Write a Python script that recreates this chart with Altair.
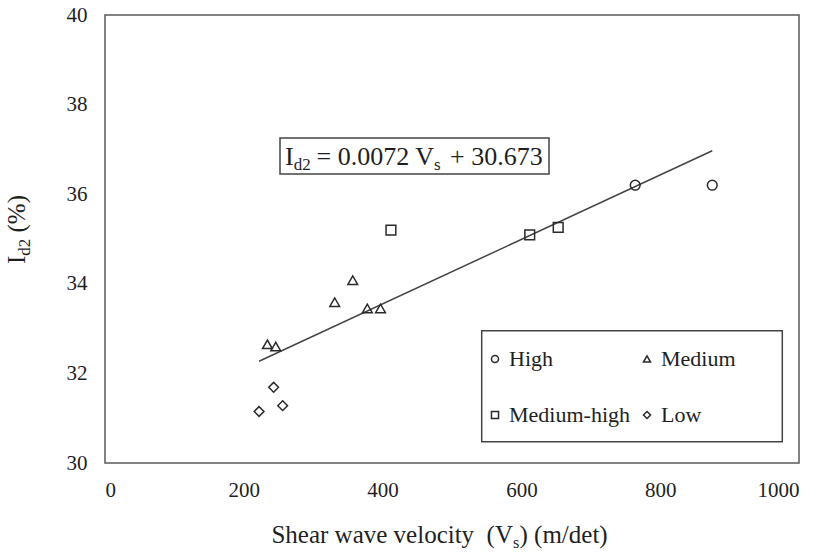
import altair as alt
import pandas as pd

# ---- data ----
high_vs = [764, 875]
high_id = [36.2, 36.2]
mh_vs = [412, 612, 653]
mh_id = [35.2, 35.09, 35.26]
med_vs = [234, 246, 331, 357, 378, 397]
med_id = [32.65, 32.60, 33.59, 34.08, 33.45, 33.45]
low_vs = [222, 243, 256]
low_id = [31.15, 31.69, 31.28]

classes = ["High", "Medium", "Medium-high", "Low"]
shapes = ["circle", "triangle-up", "square", "diamond"]

trend_vs = [222, 875]
trend_id = [32.27, 36.97]

x_ticks = [0, 200, 400, 600, 800, 1000]
y_ticks = [30, 32, 34, 36, 38, 40]

FONT = "Liberation Serif"
TXT = "#1f1f1f"
LINE = "#444444"

rows = []
for name, xs, ys in [("High", high_vs, high_id), ("Medium-high", mh_vs, mh_id),
                     ("Medium", med_vs, med_id), ("Low", low_vs, low_id)]:
    for a, b in zip(xs, ys):
        rows.append({"Vs": a, "Id2": b, "cls": name})
pts = pd.DataFrame(rows)
trend = pd.DataFrame({"Vs": trend_vs, "Id2": trend_id})
one = pd.DataFrame({"k": [0]})

xscale = alt.Scale(domain=[0, 1000], nice=False)
yscale = alt.Scale(domain=[30, 40], nice=False)

xaxis = alt.Axis(values=x_ticks, title=None, grid=False, domain=False, ticks=False, tickSize=0,
                 format="d", labelFont=FONT, labelFontSize=21, labelColor=TXT, labelPadding=16)
yaxis = alt.Axis(values=y_ticks, title=None, grid=False, domain=False, ticks=False, tickSize=0,
                 format="d", labelFont=FONT, labelFontSize=21, labelColor=TXT, labelPadding=18)

points = alt.Chart(pts).mark_point(filled=False, size=95, strokeWidth=1.5, color="#2a2a2a",
                                   opacity=1).encode(
    x=alt.X("Vs:Q", scale=xscale, axis=xaxis),
    y=alt.Y("Id2:Q", scale=yscale, axis=yaxis),
    shape=alt.Shape("cls:N", scale=alt.Scale(domain=classes, range=shapes),
                    legend=alt.Legend(orient="none", legendX=379, legendY=333, columns=2,
                                      direction="horizontal",
                                      title=None, padding=0, gridAlign="each",
                                      labelFont=FONT, labelFontSize=22, labelColor=TXT,
                                      labelOffset=3, symbolSize=50, symbolStrokeWidth=1.5,
                                      symbolStrokeColor="#2a2a2a", symbolFillColor="white",
                                      symbolOpacity=1,
                                      rowPadding=34, columnPadding=6, strokeColor="transparent")),
)

line = alt.Chart(trend).mark_line(color=LINE, strokeWidth=1.5).encode(
    x=alt.X("Vs:Q", scale=xscale, axis=xaxis), y=alt.Y("Id2:Q", scale=yscale, axis=yaxis)
)


def box(x1, y1, x2, y2):
    return alt.Chart(one).mark_rect(fill="white", stroke=LINE, strokeWidth=1.5).encode(
        x=alt.value(x1), x2=alt.value(x2), y=alt.value(y1), y2=alt.value(y2))


def txt(s, x, y, size, align="left", angle=0):
    kw = dict(font=FONT, fontSize=size, color=TXT, align=align, baseline="alphabetic")
    if angle:
        kw["angle"] = angle
    return alt.Chart(one).mark_text(**kw).encode(
        x=alt.value(x), y=alt.value(y), text=alt.value(s))


eq_box = box(175, 123, 444, 159)
eq = [
    txt("I", 180, 150, 26),
    txt("d2", 188.7, 155, 17),
    txt("= 0.0072 V", 329, 150, 26, align="right"),
    txt("s", 329, 155, 17),
    txt("+ 30.673", 345, 150, 26),
]

leg_box = box(376.7, 315.7, 677.3, 426.7)

xtitle = [
    txt("Shear wave velocity\u00a0 (V", 408, 528, 25, align="right"),
    txt("s", 408, 533, 16),
    txt(") (m/det)", 414.5, 528, 25),
]
ytitle = [
    txt("I", -80, 249, 25, angle=270),
    txt("d2", -75, 240.7, 17, angle=270),
    txt("(%)", -80, 217.5, 25, angle=270),
]

chart = alt.layer(eq_box, leg_box, line, points, *eq, *xtitle, *ytitle).properties(
    width=694, height=448,
    autosize=alt.AutoSizeParams(type="none"),
    padding={"left": 105, "top": 15, "right": 22, "bottom": 89},
).configure(
    background="white", font=FONT,
    style={"guide-label": {"font": FONT, "fontSize": 21, "fill": TXT}},
).configure_view(
    stroke="#5a5a5a", strokeWidth=1.5
).configure_axis(labelFont=FONT, labelFontSize=21, labelColor=TXT)

chart.save("out.html", embed_options={"renderer": "svg", "actions": False})
